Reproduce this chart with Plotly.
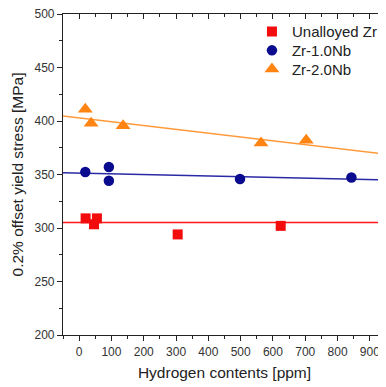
import plotly.graph_objects as go

# Data
zr_h = [20, 55, 46, 305, 624]
zr_ys = [309, 309, 303.5, 294, 302]
nb1_h = [19, 92, 92, 498, 843]
nb1_ys = [352.3, 357, 344.2, 345.8, 347.2]
nb2_h = [19, 37, 136, 563, 703]
nb2_ys = [411, 398, 395.5, 379.5, 382]

fit_x = [-50, 950]
zr_fit = [305.2, 305.2]
nb1_fit = [351.6, 345.0]
nb2_fit = [404.6, 369.0]

x_range = [-50, 950]
y_range = [200, 500]

RED = "#F20C0C"
BLUE = "#0B0B8F"
ORANGE = "#FF8411"
FONT = "Liberation Sans, Arial, sans-serif"

fig = go.Figure()

fig.add_trace(go.Scatter(x=fit_x, y=zr_fit, mode="lines", line=dict(color="#FF1A1A", width=1.5), showlegend=False, hoverinfo="skip"))
fig.add_trace(go.Scatter(x=fit_x, y=nb1_fit, mode="lines", line=dict(color="#2A2AA6", width=1.5), showlegend=False, hoverinfo="skip"))
fig.add_trace(go.Scatter(x=fit_x, y=nb2_fit, mode="lines", line=dict(color="#FF9A3A", width=1.5), showlegend=False, hoverinfo="skip"))

fig.add_trace(go.Scatter(x=zr_h, y=zr_ys, mode="markers", name="Unalloyed Zr", legend="legend",
                         marker=dict(symbol="square", size=10, color=RED)))
fig.add_trace(go.Scatter(x=nb1_h, y=nb1_ys, mode="markers", name="Zr-1.0Nb", legend="legend2",
                         marker=dict(symbol="circle", size=10.5, color=BLUE)))
fig.add_trace(go.Scatter(x=nb2_h, y=nb2_ys, mode="markers", name="Zr-2.0Nb", legend="legend3",
                         marker=dict(symbol="triangle-up", size=13, color=ORANGE)))

# dummy trace for mirrored (inside-tick) axes
fig.add_trace(go.Scatter(x=[None], y=[None], xaxis="x2", yaxis="y2", showlegend=False, hoverinfo="skip"))

axis_common = dict(showgrid=False, zeroline=False, showline=True, linecolor="#222", linewidth=1.2, automargin=False)

def leg(y):
    return dict(x=0.585, y=y, xanchor="left", yanchor="middle", bgcolor="rgba(0,0,0,0)",
                font=dict(size=15, color="#222"), itemsizing="trace")

fig.update_layout(
    width=386, height=387,
    margin=dict(l=55, r=8, t=6, b=60),
    paper_bgcolor="white", plot_bgcolor="white",
    font=dict(family=FONT, size=12, color="#222"),
    showlegend=True,
    legend=leg(0.945), legend2=leg(0.886), legend3=leg(0.828),
    xaxis=dict(range=x_range, dtick=100, tick0=0, ticks="outside", ticklen=5, tickwidth=1, tickcolor="#222",
               minor=dict(dtick=50, ticks="outside", ticklen=3, tickcolor="#222"),
               title=dict(text="Hydrogen contents [ppm]", font=dict(size=15.5, color="#222"), standoff=9),
               tickfont=dict(size=12, color="#333"), ticklabeloverflow="allow", **axis_common),
    yaxis=dict(range=y_range, dtick=50, ticks="outside", ticklen=5, tickwidth=1, tickcolor="#222",
               minor=dict(dtick=25, ticks="outside", ticklen=3, tickcolor="#222"),
               title=dict(text="0.2% offset yield stress [MPa]", font=dict(size=15.5, color="#222"), standoff=7),
               tickfont=dict(size=12, color="#333"), ticklabeloverflow="allow", **axis_common),
    xaxis2=dict(range=x_range, overlaying="x", side="top", anchor="y2", dtick=100, tick0=0,
                ticks="inside", ticklen=5, tickcolor="#222", showticklabels=False,
                minor=dict(dtick=50, ticks="inside", ticklen=3, tickcolor="#222"), **axis_common),
    yaxis2=dict(range=y_range, overlaying="y", side="right", anchor="x2", dtick=50,
                ticks="inside", ticklen=5, tickcolor="#222", showticklabels=False,
                minor=dict(dtick=25, ticks="inside", ticklen=3, tickcolor="#222"), **axis_common),
)

fig.write_html("out.html")
